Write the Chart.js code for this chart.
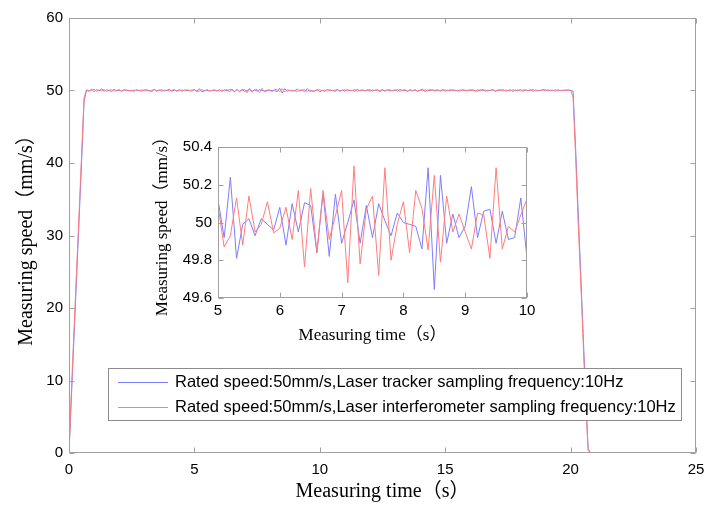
<!DOCTYPE html>
<html>
<head>
<meta charset="utf-8">
<script src="https://cdn.jsdelivr.net/npm/chart.js@4.4.1/dist/chart.umd.min.js"></script>
<style>
  body { margin: 0; background: #fff; }
  #wrap { position: relative; width: 707px; height: 505px; }
  #main-chart { position: absolute; left: 0; top: 0; }
  #inset-chart { position: absolute; left: 145px; top: 130px; background: #fff; }
</style>
</head>
<body>
<div id="wrap">
  <canvas id="main-chart" width="707" height="505"></canvas>
  <canvas id="inset-chart" width="390" height="218"></canvas>
</div>
<script>
// sampling: 10 Hz, first sample at t = 0 s
const sampleStep = 0.1;

const seriesLabels = [
    'Rated speed:50mm/s,Laser tracker sampling frequency:10Hz',
    'Rated speed:50mm/s,Laser interferometer sampling frequency:10Hz'
];

// start ramp, t = 0.0 .. 0.6
const blueRamp = [0, 8, 16, 24, 32, 40, 48.5];
const redRamp = [0, 9, 17, 25, 33, 41, 49];

// t = 0.7 .. 4.9
const blueEarly = [50.05, 49.92, 50.18, 49.85, 50.12, 49.95, 50.22, 49.9, 50.08, 50.0,
    49.88, 50.15, 49.95, 50.04, 49.9, 50.1, 49.97, 50.02, 49.93, 50.06,
    49.98, 50.03, 49.9, 50.12, 49.95, 50.0, 49.86, 50.14, 49.96, 50.07,
    49.92, 50.05, 49.99, 50.18, 49.88, 50.06, 49.94, 50.1, 49.9, 50.08,
    49.97, 50.03, 49.92];
const redEarly = [50.1, 49.95, 50.05, 50.15, 49.9, 50.08, 49.98, 50.12, 49.88, 50.03,
    50.1, 49.92, 50.0, 50.14, 49.9, 50.06, 50.1, 49.94, 50.02, 49.87,
    50.12, 49.96, 50.08, 49.93, 50.16, 49.9, 50.04, 50.11, 49.91, 50.0,
    50.13, 49.89, 50.07, 49.95, 50.02, 50.15, 49.9, 49.98, 50.09, 49.93,
    50.12, 49.96, 50.05];

// t = 5.0 .. 10.0
const insetBlue = [50.12, 49.92, 50.24, 49.81, 49.99, 50.02, 49.93, 50.02, 49.99, 49.96,
    50.08, 49.88, 50.10, 49.95, 50.105, 50.09, 49.84, 50.155, 49.82, 50.15,
    49.89, 50.0, 50.12, 49.89, 50.09, 49.92, 50.10, 50.01, 49.93, 50.05,
    50.0, 49.99, 49.98, 49.86, 50.29, 49.645, 50.25, 49.89, 50.045, 49.92,
    49.98, 50.19, 49.92, 50.06, 50.07, 49.89, 50.06, 49.91, 49.92, 50.13,
    49.81];
const insetRed = [50.09, 49.87, 49.93, 50.13, 49.88, 50.14, 49.95, 49.99, 50.11, 49.945,
    49.97, 50.08, 49.91, 50.17, 49.765, 50.18, 49.84, 50.17, 49.91, 50.035,
    50.17, 49.68, 50.30, 49.78, 50.07, 50.14, 49.72, 50.29, 49.80, 49.99,
    50.11, 49.84, 50.17, 50.075, 49.855, 50.25, 49.79, 50.14, 49.95, 50.045,
    49.95, 49.86, 50.05, 50.04, 49.81, 50.29, 49.86, 49.98, 49.95, 50.04,
    50.125];

// t = 10.1 .. 20.0
const blueLate = [50.02, 49.9, 50.14, 49.95, 50.06, 49.88, 50.1, 49.97, 50.04,
    49.92, 50.12, 49.96, 50.03, 49.89, 50.16, 49.94, 50.05, 49.98, 50.09,
    49.91, 50.07, 49.99, 50.13, 49.87, 50.04, 49.95, 50.1, 49.93, 50.02,
    50.08, 49.9, 50.15, 49.96, 50.0, 49.88, 50.11, 49.97, 50.06, 49.92,
    50.03, 50.18, 49.86, 50.07, 49.95, 50.12, 49.9, 50.04, 49.98, 50.14,
    49.89, 50.06, 49.94, 50.1, 49.97, 50.02, 49.91, 50.13, 49.95, 50.05,
    49.99, 50.11, 49.88, 50.08, 49.96, 50.15, 49.92, 50.03, 49.97, 50.09,
    49.9, 50.06, 49.98, 50.12, 49.93, 50.01, 50.1, 49.87, 50.07, 49.95,
    50.14, 49.91, 50.04, 49.98, 50.1, 49.9, 50.06, 49.96, 50.02, 50.12,
    49.93, 50.08, 49.97, 50.03, 49.9, 50.11, 49.95, 50.05, 49.99, 50.07,
    50.0];
const redLate = [49.96, 50.08, 49.9, 50.12, 49.94, 50.05, 50.14, 49.89, 50.03,
    50.1, 49.93, 50.06, 49.98, 50.15, 49.91, 50.02, 50.09, 49.95, 50.04,
    50.12, 49.88, 50.07, 49.97, 50.0, 50.13, 49.92, 50.05, 50.1, 49.94,
    49.99, 50.14, 49.9, 50.06, 50.11, 49.93, 50.03, 49.96, 50.12, 49.89,
    50.08, 49.95, 50.1, 49.92, 50.16, 49.97, 50.04, 50.11, 49.9, 50.02,
    50.09, 49.94, 50.13, 49.98, 50.05, 49.91, 50.1, 49.96, 50.07, 49.93,
    50.12, 49.97, 50.02, 49.89, 50.14, 49.95, 50.08, 49.92, 50.05, 50.11,
    49.96, 50.03, 50.12, 49.9, 50.07, 49.98, 49.94, 50.13, 49.97, 50.08,
    49.92, 50.06, 50.1, 49.95, 50.03, 50.14, 49.91, 50.05, 49.98, 50.09,
    50.1, 49.94, 50.06, 49.99, 50.12, 49.93, 50.04, 49.97, 50.08, 50.02,
    50.05];

// stop ramp, t = 20.1 .. 20.8
const blueDrop = [49.9, 42, 33.5, 25, 16.5, 8, 0.6, 0];
const redDrop = [49.0, 41, 32, 24, 15.5, 7, 0.3, 0];

const blueSpeed = [...blueRamp, ...blueEarly, ...insetBlue, ...blueLate, ...blueDrop];
const redSpeed = [...redRamp, ...redEarly, ...insetRed, ...redLate, ...redDrop];

const mainXTicks = [0, 5, 10, 15, 20, 25];
const mainYTicks = [0, 10, 20, 30, 40, 50, 60];
const insetXTicks = [5, 6, 7, 8, 9, 10];
const insetYTicks = [49.6, 49.8, 50, 50.2, 50.4];

const blueColor = 'rgb(125, 125, 255)';
const redColor = 'rgb(255, 125, 125)';

function toPoints(values, t0) {
    return values.map((v, i) => ({ x: +(t0 + i * sampleStep).toFixed(1), y: v }));
}

// box round the plot area with inward ticks on all four sides
const frameTicks = {
    id: 'frameTicks',
    afterDatasetsDraw(chart) {
        const { ctx, chartArea: a, scales } = chart;
        const L = Math.round(a.left) + 0.5, R = Math.round(a.right) - 0.5;
        const T = Math.round(a.top) + 0.5, B = Math.round(a.bottom) - 0.5;
        const len = 5;
        ctx.save();
        ctx.strokeStyle = '#a0a0a0';
        ctx.lineWidth = 1;
        ctx.strokeRect(L, T, R - L, B - T);
        ctx.beginPath();
        scales.x.ticks.forEach(t => {
            const px = Math.round(scales.x.getPixelForValue(t.value)) + 0.5;
            ctx.moveTo(px, B); ctx.lineTo(px, B - len);
            ctx.moveTo(px, T); ctx.lineTo(px, T + len);
        });
        scales.y.ticks.forEach(t => {
            const py = Math.round(scales.y.getPixelForValue(t.value)) + 0.5;
            ctx.moveTo(L, py); ctx.lineTo(L + len, py);
            ctx.moveTo(R, py); ctx.lineTo(R - len, py);
        });
        ctx.stroke();
        ctx.restore();
    }
};

// legend box inside the main plot, lower middle
const boxLegend = {
    id: 'boxLegend',
    afterDraw(chart) {
        const ctx = chart.ctx;
        const box = { x: 108.5, y: 368.5, w: 573, h: 52 };
        ctx.save();
        ctx.fillStyle = '#fff';
        ctx.fillRect(box.x, box.y, box.w, box.h);
        ctx.strokeStyle = '#8c8c8c';
        ctx.lineWidth = 1;
        ctx.strokeRect(box.x, box.y, box.w, box.h);
        ctx.font = '16.5px "Liberation Sans", Arial, sans-serif';
        ctx.textBaseline = 'middle';
        ctx.fillStyle = '#000';
        chart.data.datasets.forEach((ds, i) => {
            const y = 382.5 + i * 25;
            ctx.strokeStyle = ds.borderColor;
            ctx.beginPath();
            ctx.moveTo(118, y); ctx.lineTo(168, y);
            ctx.stroke();
            ctx.fillText(ds.label, 175, y);
        });
        ctx.restore();
    }
};

function fixedTicks(values) {
    return scale => { scale.ticks = values.map(v => ({ value: v })); };
}

// fixed axis band sizes, no extra room for overhanging end labels
function fixX(h) {
    return s => { s.height = h; s.paddingLeft = 0; s.paddingRight = 0; };
}
function fixY(w) {
    return s => { s.width = w; s.paddingTop = 0; s.paddingBottom = 0; };
}

const tickFont = { family: '"Liberation Sans", Arial, sans-serif', size: 15 };
const titleFamily = '"Liberation Serif", "Times New Roman", "Noto Sans CJK SC", serif';

new Chart(document.getElementById('main-chart'), {
    type: 'line',
    data: {
        datasets: [
            { label: seriesLabels[0], data: toPoints(blueSpeed, 0), borderColor: blueColor, order: 1 },
            { label: seriesLabels[1], data: toPoints(redSpeed, 0), borderColor: redColor, order: 0 }
        ]
    },
    options: {
        responsive: false,
        animation: false,
        devicePixelRatio: 1,
        layout: { padding: { top: 18, right: 11, left: 0, bottom: 0 } },
        elements: { point: { radius: 0 }, line: { borderWidth: 1, tension: 0 } },
        plugins: { legend: { display: false }, tooltip: { enabled: false } },
        scales: {
            x: {
                type: 'linear', min: 0, max: 25,
                afterBuildTicks: fixedTicks(mainXTicks),
                afterFit: fixX(52),
                grid: { display: false, drawTicks: false }, border: { display: false },
                ticks: { font: tickFont, color: '#000', padding: 8, maxRotation: 0, autoSkip: false },
                title: { display: true, text: 'Measuring time（s）', color: '#000',
                    font: { family: titleFamily, size: 20 }, padding: { top: 0, bottom: 1 } }
            },
            y: {
                type: 'linear', min: 0, max: 60,
                afterBuildTicks: fixedTicks(mainYTicks),
                afterFit: fixY(69),
                grid: { display: false, drawTicks: false }, border: { display: false },
                ticks: { font: tickFont, color: '#000', padding: 6, autoSkip: false },
                title: { display: true, text: 'Measuring speed（mm/s）', color: '#000',
                    font: { family: titleFamily, size: 20 }, padding: { top: 15, bottom: 0 } }
            }
        }
    },
    plugins: [frameTicks, boxLegend]
});

new Chart(document.getElementById('inset-chart'), {
    type: 'line',
    data: {
        datasets: [
            { label: seriesLabels[0], data: toPoints(insetBlue, 5), borderColor: blueColor, order: 1 },
            { label: seriesLabels[1], data: toPoints(insetRed, 5), borderColor: redColor, order: 0 }
        ]
    },
    options: {
        responsive: false,
        animation: false,
        devicePixelRatio: 1,
        layout: { padding: { top: 17, right: 8, left: 0, bottom: 0 } },
        elements: { point: { radius: 0 }, line: { borderWidth: 1, tension: 0 } },
        plugins: { legend: { display: false }, tooltip: { enabled: false } },
        scales: {
            x: {
                type: 'linear', min: 5, max: 10,
                afterBuildTicks: fixedTicks(insetXTicks),
                afterFit: fixX(50),
                grid: { display: false, drawTicks: false }, border: { display: false },
                ticks: { font: tickFont, color: '#000', padding: 4, maxRotation: 0, autoSkip: false },
                title: { display: true, text: 'Measuring time（s）', color: '#000',
                    font: { family: titleFamily, size: 17 }, padding: { top: 0, bottom: 2 } }
            },
            y: {
                type: 'linear', min: 49.6, max: 50.4,
                afterBuildTicks: fixedTicks(insetYTicks),
                afterFit: fixY(73),
                grid: { display: false, drawTicks: false }, border: { display: false },
                ticks: { font: tickFont, color: '#000', padding: 6, autoSkip: false,
                    callback: v => String(+v.toFixed(1)) },
                title: { display: true, text: 'Measuring speed（mm/s）', color: '#000',
                    font: { family: titleFamily, size: 17 }, padding: { top: 7, bottom: 0 } }
            }
        }
    },
    plugins: [frameTicks]
});
</script>
</body>
</html>
